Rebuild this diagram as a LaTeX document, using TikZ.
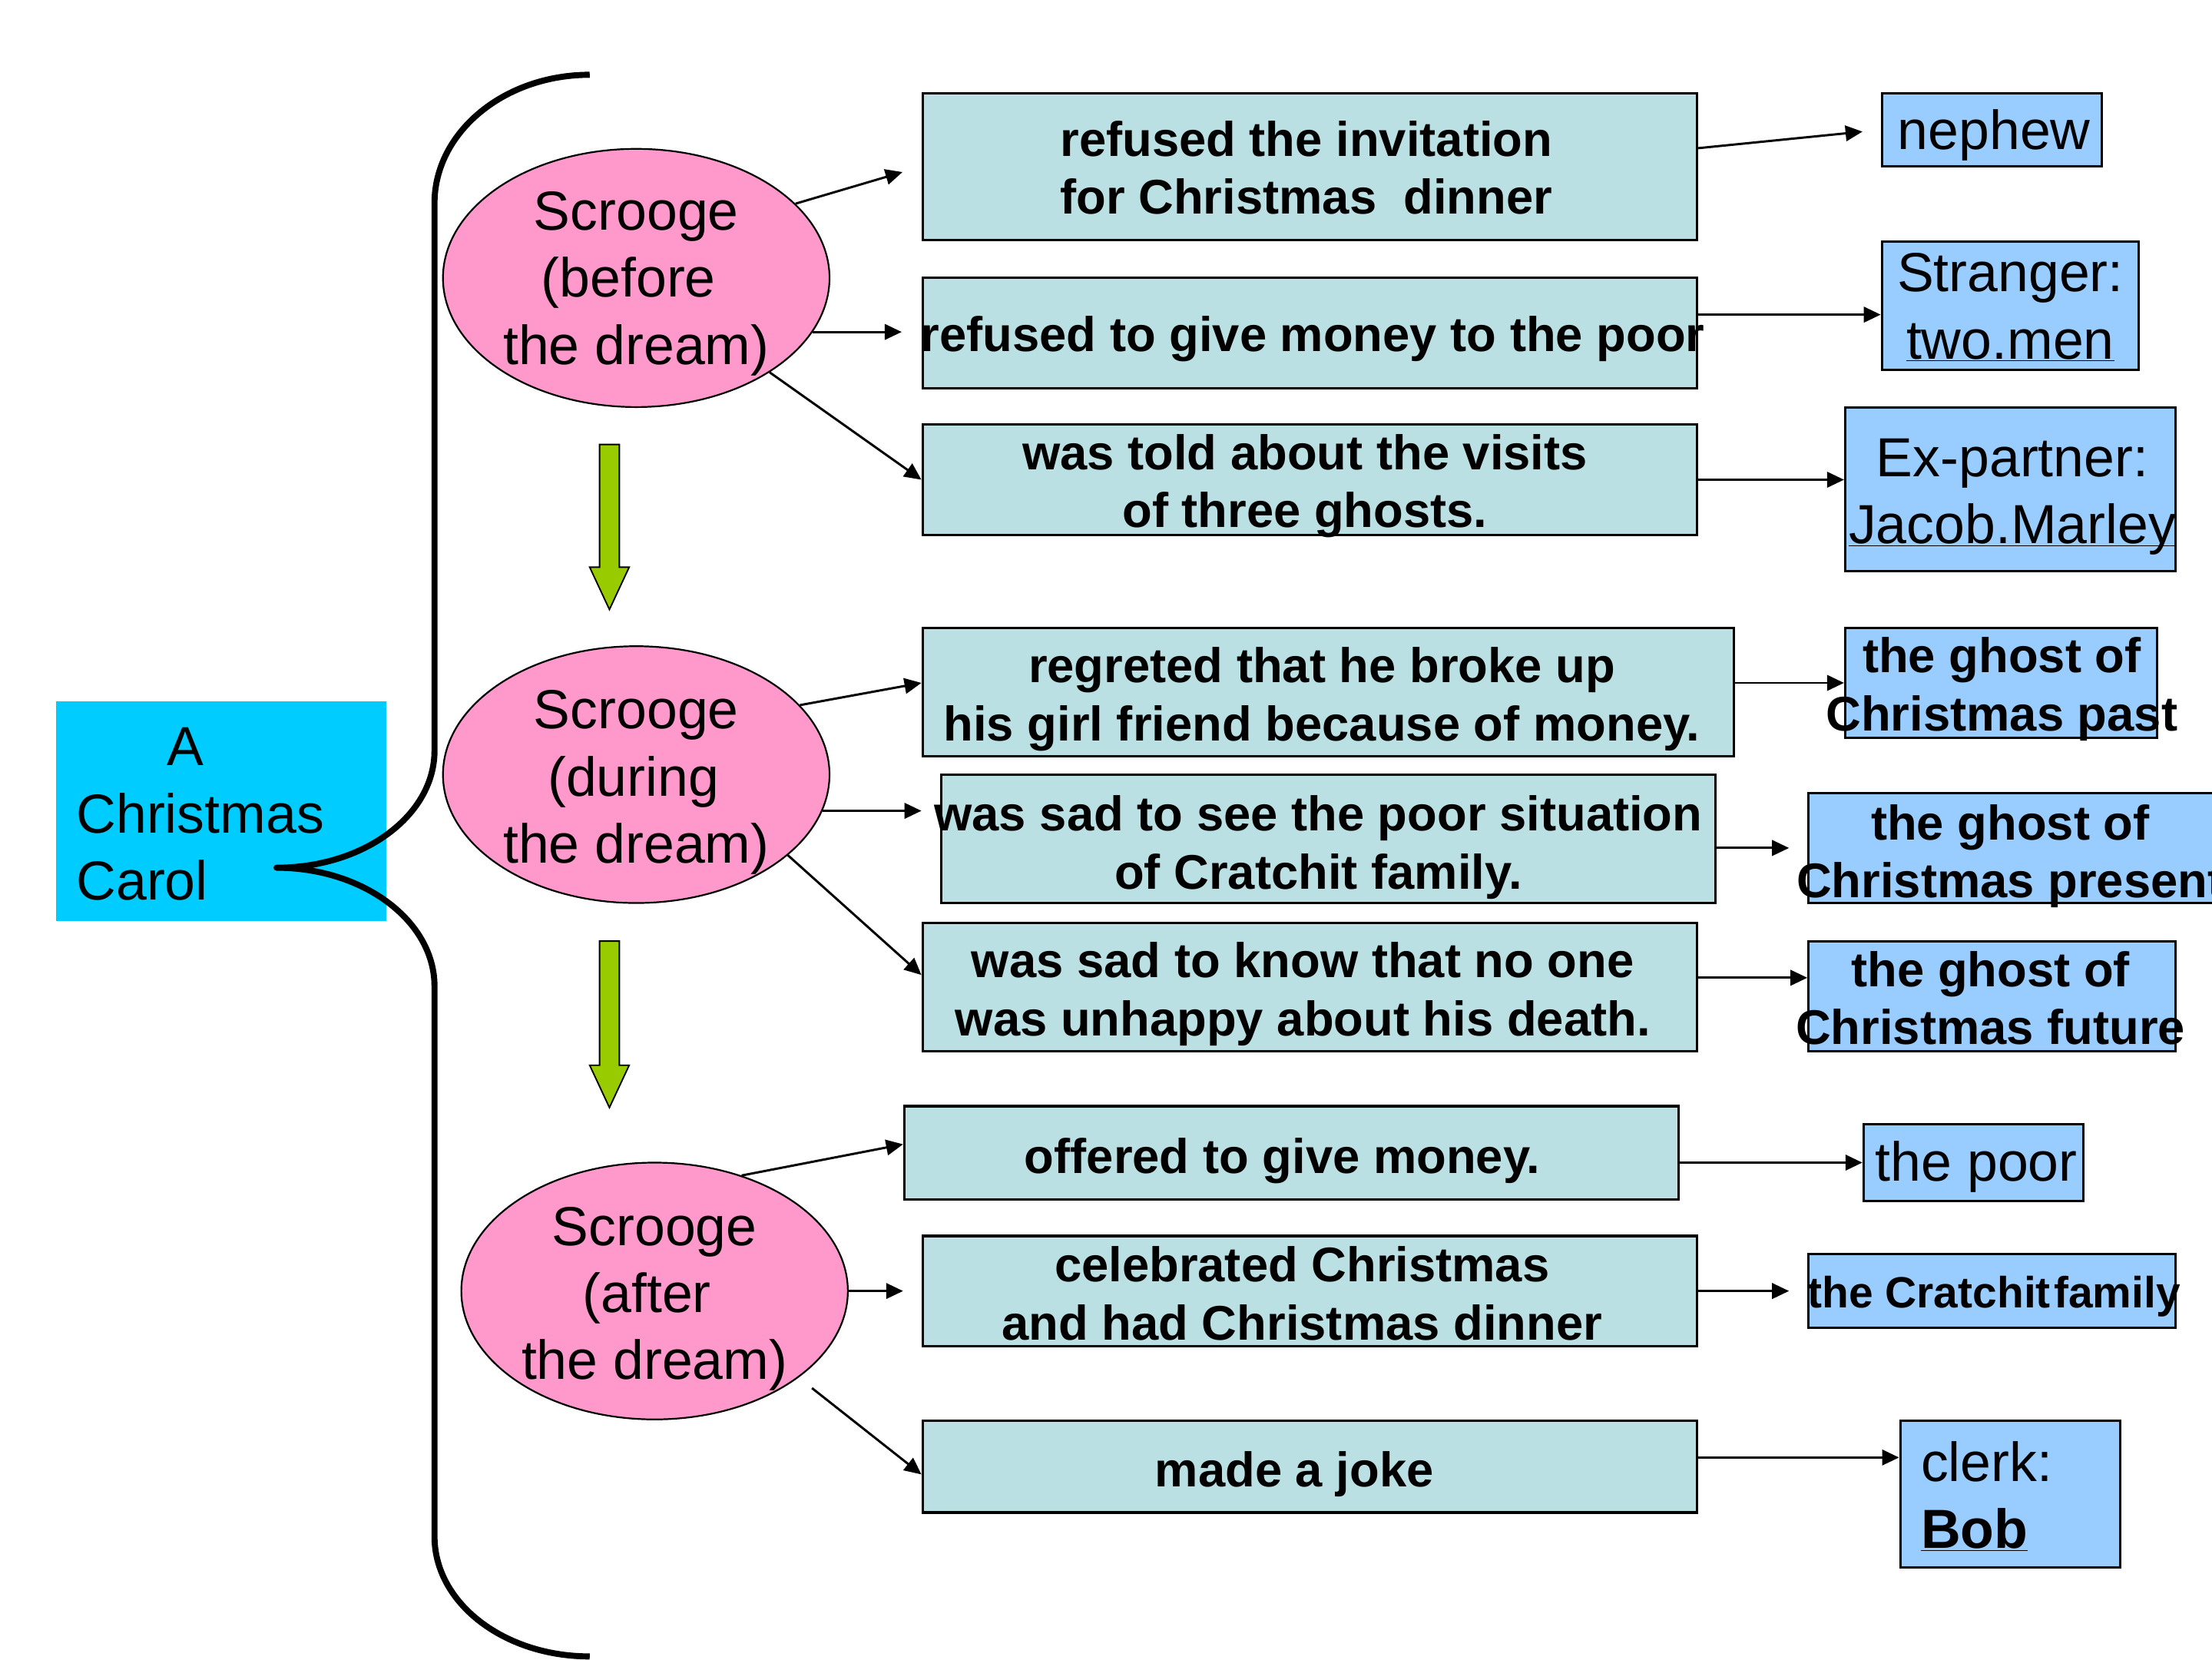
\documentclass[tikz,border=0pt]{standalone}
\usepackage{fontspec}
\setmainfont{Liberation Sans}
\usetikzlibrary{arrows.meta,shapes.geometric}
\definecolor{cyanbox}{HTML}{00CCFF}
\definecolor{pinkell}{HTML}{FF99CC}
\definecolor{tealbox}{HTML}{BBE0E3}
\definecolor{bluebox}{HTML}{99CCFF}
\definecolor{greenarr}{HTML}{99CC00}
\newcommand\myreg{\fontsize{39}{47.5}\selectfont}
\newcommand\mybold{\fontsize{34.5}{41}\selectfont\bfseries}
\newcommand\mysbold{\fontsize{31}{36}\selectfont\bfseries}
\newcommand\myul[1]{\underline{\smash{#1}}}
\newcommand\trail{\rule{11pt}{0pt}}
\begin{document}
\begin{tikzpicture}[x=1pt,y=-1pt,
  tbox/.style={draw, line width=1.7pt, fill=tealbox, inner sep=0pt},
  rbox/.style={draw, line width=1.7pt, fill=bluebox, inner sep=0pt},
  scell/.style={ellipse, draw, line width=1.2pt, fill=pinkell, inner sep=0pt},
  btxt/.style={font=\mybold, align=center, inner sep=0pt},
  rtxt/.style={font=\myreg, align=center, inner sep=0pt},
  arr/.style={-{Triangle[length=12pt,width=11pt]}, line width=1.6pt},
  greenblk/.style={fill=greenarr, draw=black, line width=1pt, line join=miter},
  wh/.style 2 args={minimum width=#1, minimum height=#2}]
\useasboundingbox (0,0) rectangle (1568,1176);

% title box
\node[fill=cyanbox, wh={234}{156}, inner sep=0pt] (title) at (157,575) {};
\node[rtxt, align=left, anchor=west] (titletxt) at (54,577) {\hspace*{64pt}A\\Christmas\\Carol};

% brace
\draw[line width=4.3pt, line join=round]
  (418,53) .. controls (357,53) and (308,94) .. (308,144)
  -- (308,532) .. controls (308,578) and (258,615) .. (196,615)
  .. controls (258,615) and (308,653) .. (308,699)
  -- (308,1089) .. controls (308,1136) and (357,1174) .. (418,1174);

% ellipses
\node[scell, wh={274}{183}] (e1) at (451,197) {};
\node[rtxt] (e1t) at (451,201) {Scrooge\\(before\trail\\the dream)};
\node[scell, wh={274}{182}] (e2) at (451,549) {};
\node[rtxt] (e2t) at (451,554.5) {Scrooge\\(during\rule{4pt}{0pt}\\the dream)};
\node[scell, wh={274}{182}] (e3) at (464,915) {};
\node[rtxt] (e3t) at (464,920.5) {Scrooge\\(after\trail\\the dream)};

% green block arrows
\filldraw[greenblk] (425,315) -- (439,315) -- (439,402) -- (446,402) -- (432,432) -- (418,402) -- (425,402) -- cycle;
\filldraw[greenblk] (425,667) -- (439,667) -- (439,755) -- (446,755) -- (432,785) -- (418,755) -- (425,755) -- cycle;

% middle boxes
\node[tbox, wh={549}{104}] (b1) at (928.5,118) {};
\node[btxt] (b1t) at (926,122.3) {refused the invitation\\for Christmas~ dinner\vphantom{g}};
\node[tbox, wh={549}{78}] (b2) at (928.5,236) {};
\node[btxt] (b2t) at (930.5,240.5) {refused to give money to the poor};
\node[tbox, wh={549}{78}] (b3) at (928.5,340) {};
\node[btxt] (b3t) at (925,344.6) {was told about the visits\\of three ghosts.};
\node[tbox, wh={575}{91}] (b4) at (941.5,490.5) {};
\node[btxt] (b4t) at (937,495.5) {regreted that he broke up\\his girl friend because of money.};
\node[tbox, wh={549}{91}] (b5) at (941.5,594.5) {};
\node[btxt] (b5t) at (934.5,600.6) {was sad to see the poor situation\\of Cratchit family.};
\node[tbox, wh={549}{91}] (b6) at (928.5,699.5) {};
\node[btxt] (b6t) at (923.5,704.6) {was sad to know that no one\\was unhappy about his death.};
\node[tbox, wh={549}{66}] (b7) at (915.5,817) {};
\node[btxt] (b7t) at (909,823) {offered to give money.\vphantom{g}};
\node[tbox, wh={549}{78}] (b8) at (928.5,915) {};
\node[btxt] (b8t) at (923,920.3) {celebrated Christmas\\and had Christmas dinner\vphantom{g}};
\node[tbox, wh={549}{65}] (b9) at (928.5,1039.5) {};
\node[btxt] (b9t) at (917.5,1045) {made a joke};

% right boxes
\node[rbox, wh={156}{52}] (r1) at (1412,92) {};
\node[rtxt] (r1t) at (1413.5,96) {nephew};
\node[rbox, wh={182}{91}] (r2) at (1425,216.5) {};
\node[rtxt] (r2t) at (1425,218) {Stranger:\\\myul{two.men}};
\node[rbox, wh={234}{116}] (r3) at (1425,347) {};
\node[rtxt] (r3t) at (1426.5,349) {Ex-partner:\\\myul{Jacob.Marley}};
\node[rbox, wh={221}{78}] (r4) at (1418.5,484) {};
\node[btxt] (r4t) at (1419,488.5) {the ghost of\\Christmas past\vphantom{g}};
\node[rbox, wh={320}{78}] (r5) at (1442,601) {};
\node[btxt] (r5t) at (1425,607) {the ghost of\\Christmas present\vphantom{g}};
\node[rbox, wh={260}{78}] (r6) at (1412,706) {};
\node[btxt] (r6t) at (1411,711) {the ghost of\\Christmas future\vphantom{g}};
\node[rbox, wh={156}{54}] (r7) at (1399,824) {};
\node[rtxt] (r7t) at (1401,827) {the poor};
\node[rbox, wh={260}{52}] (r8) at (1412,915) {};
\node[font=\mysbold, inner sep=0pt] (r8t) at (1413.5,919) {the Cratchit\hspace{0.08em}family};
\node[rbox, wh={156}{104}] (r9) at (1425,1059) {};
\node[rtxt, align=left, anchor=west] (r9t) at (1361.5,1060.7) {clerk:\\\textbf{\myul{Bob}}};

% arrows ellipse -> boxes
\draw[arr, shorten >=14pt] (e1.25) -- (b1.west);
\draw[arr, shorten >=14pt] (e1.-17.5) -- (e1.-17.5 -| b2.west);
\draw[arr] (e1) -- (b3.west);
\draw[arr] (e2.23) -- ([yshift=6.5pt]b4.west);
\draw[arr, shorten >=13pt] (e2.-11.65) -- (e2.-11.65 -| b5.west);
\draw[arr] (e2.-28.3) -- ([yshift=8.5pt]b6.west);
\draw[arr] (e3.53) -- ([yshift=6pt]b7.west);
\draw[arr, shorten >=13pt] (e3.east) -- (b8.west);
\draw[arr, shorten <=12pt] (e3.-31) -- ([yshift=-5.5pt]b9.west);

% arrows boxes -> right boxes
\draw[arr, shorten >=13pt] ([yshift=13pt]b1.east) -- (r1.west);
\draw[arr] ([yshift=13pt]b2.east) -- ([yshift=13pt]b2.east -| r2.west);
\draw[arr] (b3.east) -- (b3.east -| r3.west);
\draw[arr] (b4.east |- r4.west) -- (r4.west);
\draw[arr, shorten >=13pt] (b5.east |- r5.west) -- (r5.west);
\draw[arr] ([yshift=6.5pt]b6.east) -- ([yshift=6.5pt]b6.east -| r6.west);
\draw[arr] (b7.east |- r7.west) -- (r7.west);
\draw[arr, shorten >=13pt] (b8.east) -- (r8.west);
\draw[arr] ([yshift=6.5pt]b9.east) -- ([yshift=6.5pt]b9.east -| r9.west);
\end{tikzpicture}
\end{document}
